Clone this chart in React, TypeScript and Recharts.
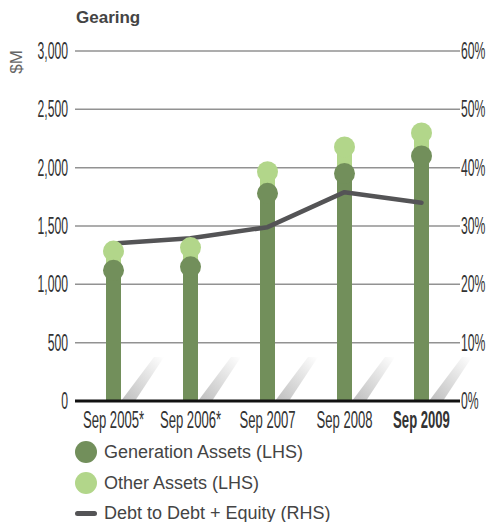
import React from 'react';
import {
  ComposedChart,
  Bar,
  Line,
  XAxis,
  YAxis,
  CartesianGrid,
  ReferenceLine
} from 'recharts';

// values
const categories = ['Sep 2005*', 'Sep 2006*', 'Sep 2007', 'Sep 2008', 'Sep 2009'];
const generationAssets = [1120, 1150, 1780, 1950, 2100];
const otherAssets = [165, 165, 185, 228, 198];
const debtToDebtEquity = [27.0, 27.9, 29.8, 35.8, 34.0];
const leftTicks = [0, 500, 1000, 1500, 2000, 2500, 3000];
const rightTicks = [0, 10, 20, 30, 40, 50, 60];

const DARK = '#728f5b';
const LIGHT = '#b2d68a';
const LINE = '#545456';
const GRID = '#929292';
const TEXT = '#333333';
const FONT = '"Liberation Sans", Arial, sans-serif';

const data = categories.map((label, i) => ({
  label,
  gen: generationAssets[i],
  other: otherAssets[i],
  total: generationAssets[i] + otherAssets[i],
  gearing: debtToDebtEquity[i]
}));

const fmtThousands = (v: number) => v.toLocaleString('en-US');

const LeftTick = ({ x, y, payload }: any) => (
  <text
    transform={`translate(${x},${y + 8}) scale(0.53,1)`}
    textAnchor="end"
    fontSize={23}
    fill={TEXT}
    fontFamily={FONT}
  >
    {fmtThousands(payload.value)}
  </text>
);

const RightTick = ({ x, y, payload }: any) => (
  <text
    transform={`translate(${x},${y + 8}) scale(0.53,1)`}
    textAnchor="start"
    fontSize={23}
    fill={TEXT}
    fontFamily={FONT}
  >
    {payload.value}%
  </text>
);

const BottomTick = ({ x, y, payload, index }: any) => (
  <text
    transform={`translate(${x},${y + 27}) scale(0.57,1)`}
    textAnchor="middle"
    fontSize={23}
    fontWeight={index === categories.length - 1 ? 700 : 400}
    fill={TEXT}
    fontFamily={FONT}
  >
    {payload.value}
  </text>
);

// dark bar with the grey diagonal shadow at its foot
const GenBar = (props: any) => {
  const { x, y, width, height } = props;
  const r = x + width;
  const b = y + height;
  const pts = `${r},${b} ${r + 14},${b} ${r + 43},${b - 44} ${r + 33},${b - 44}`;
  return (
    <g>
      <polygon points={pts} fill="url(#shadowGrad)" />
      <rect x={x} y={y} width={width} height={height} fill={DARK} />
    </g>
  );
};

const App = () => {
  return (
    <div
      style={{
        position: 'absolute',
        left: 0,
        top: 0,
        width: 492,
        height: 522,
        background: '#fff',
        fontFamily: FONT
      }}
    >
      <div
        style={{
          position: 'absolute',
          left: 76,
          top: 9,
          fontSize: 17,
          lineHeight: '17px',
          fontWeight: 700,
          color: '#444'
        }}
      >
        Gearing
      </div>
      <div
        style={{
          position: 'absolute',
          left: 16,
          top: 62,
          fontSize: 17,
          lineHeight: '17px',
          color: '#666',
          transform: 'translate(-50%,-50%) rotate(-90deg)',
          whiteSpace: 'nowrap'
        }}
      >
        $M
      </div>

      <div style={{ position: 'absolute', left: 0, top: 0 }}>
        <ComposedChart
          width={492}
          height={440}
          data={data}
          margin={{ top: 51, right: 0, left: 15, bottom: 9 }}
        >
          <defs>
            <linearGradient id="shadowGrad" x1="0" y1="1" x2="1" y2="0">
              <stop offset="0%" stopColor="#bdbdbd" />
              <stop offset="100%" stopColor="#ffffff" />
            </linearGradient>
          </defs>
          <CartesianGrid
            yAxisId="left"
            vertical={false}
            stroke={GRID}
            strokeWidth={1.5}
          />
          <XAxis
            dataKey="label"
            axisLine={false}
            tickLine={false}
            tickSize={0}
            tickMargin={0}
            height={30}
            interval={0}
            tick={<BottomTick />}
          />
          <YAxis
            yAxisId="left"
            domain={[0, 3000]}
            ticks={leftTicks}
            width={60}
            axisLine={false}
            tickLine={false}
            tickSize={0}
            tickMargin={7}
            tick={<LeftTick />}
          />
          <YAxis
            yAxisId="right"
            orientation="right"
            domain={[0, 60]}
            ticks={rightTicks}
            width={32}
            axisLine={false}
            tickLine={false}
            tickSize={0}
            tickMargin={1}
            tick={<RightTick />}
          />
          <Bar
            yAxisId="left"
            dataKey="gen"
            stackId="a"
            barSize={15}
            fill={DARK}
            shape={<GenBar />}
            isAnimationActive={false}
          />
          <Bar
            yAxisId="left"
            dataKey="other"
            stackId="a"
            barSize={15}
            fill={LIGHT}
            isAnimationActive={false}
          />
          <ReferenceLine yAxisId="left" y={0} stroke="#111" strokeWidth={3} />
          {/* circle heads */}
          <Line
            yAxisId="left"
            dataKey="total"
            stroke="none"
            dot={{ r: 10.5, fill: LIGHT, stroke: 'none' }}
            activeDot={false}
            isAnimationActive={false}
          />
          <Line
            yAxisId="left"
            dataKey="gen"
            stroke="none"
            dot={{ r: 10.5, fill: DARK, stroke: 'none' }}
            activeDot={false}
            isAnimationActive={false}
          />
          {/* Debt to Debt + Equity */}
          <Line
            yAxisId="right"
            type="linear"
            dataKey="gearing"
            stroke={LINE}
            strokeWidth={4.5}
            strokeLinecap="round"
            strokeLinejoin="round"
            dot={false}
            activeDot={false}
            isAnimationActive={false}
          />
        </ComposedChart>
      </div>

      {/* legend */}
      <div
        style={{
          position: 'absolute',
          left: 75,
          top: 440,
          fontSize: 18,
          color: '#444'
        }}
      >
        <div style={{ display: 'flex', alignItems: 'center', height: 24, marginBottom: 7 }}>
          <span style={{ width: 22, height: 22, borderRadius: 11, background: DARK, marginRight: 7 }} />
          Generation Assets (LHS)
        </div>
        <div style={{ display: 'flex', alignItems: 'center', height: 24, marginBottom: 6 }}>
          <span style={{ width: 22, height: 22, borderRadius: 11, background: LIGHT, marginRight: 7 }} />
          Other Assets (LHS)
        </div>
        <div style={{ display: 'flex', alignItems: 'center', height: 24 }}>
          <span style={{ width: 22, height: 5, borderRadius: 3, background: LINE, marginRight: 7 }} />
          Debt to Debt + Equity (RHS)
        </div>
      </div>
    </div>
  );
};

export default App;
